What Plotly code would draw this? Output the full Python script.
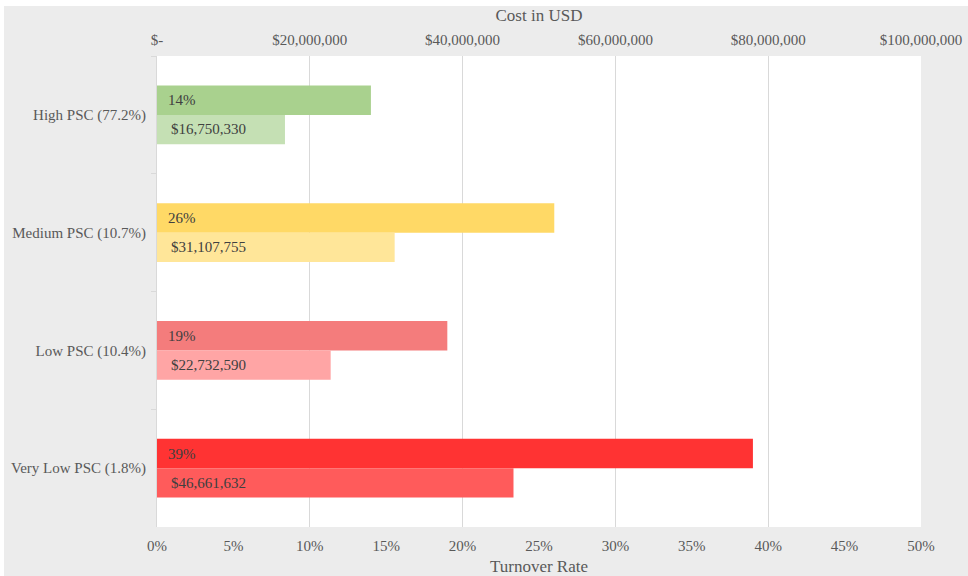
import plotly.graph_objects as go

categories = ["High PSC (77.2%)", "Medium PSC (10.7%)", "Low PSC (10.4%)", "Very Low PSC (1.8%)"]
turnover = [0.14, 0.26, 0.19, 0.39]
cost = [16750330, 31107755, 22732590, 46661632]
turnover_labels = ["14%", "26%", "19%", "39%"]
cost_labels = ["$16,750,330", "$31,107,755", "$22,732,590", "$46,661,632"]
turnover_colors = ["#a9d18e", "#ffd966", "#f47c7c", "#ff3333"]
cost_colors = ["#c5e0b4", "#ffe699", "#ffa5a5", "#ff5b5b"]
pct_ticks = [0, 0.05, 0.10, 0.15, 0.20, 0.25, 0.30, 0.35, 0.40, 0.45, 0.50]
pct_labels = ["0%", "5%", "10%", "15%", "20%", "25%", "30%", "35%", "40%", "45%", "50%"]
usd_ticks = [0, 20000000, 40000000, 60000000, 80000000, 100000000]
usd_labels = ["$-", "$20,000,000", "$40,000,000", "$60,000,000", "$80,000,000", "$100,000,000"]

W, H = 968, 576
ML, MR, MT, MB = 157, 47, 56, 49
PW, PH = W - ML - MR, H - MT - MB

FONT = "Liberation Serif, Times New Roman, serif"
TICK_COLOR = "#595959"
LABEL_COLOR = "#404040"
FS = 15
TS = 17

fig = go.Figure()

fig.add_trace(go.Bar(
    y=categories, x=turnover, orientation="h",
    marker=dict(color=turnover_colors, line=dict(width=0)),
    width=0.25, offset=-0.25,
    xaxis="x", yaxis="y", showlegend=False, hoverinfo="x+y",
))
fig.add_trace(go.Bar(
    y=categories, x=cost, orientation="h",
    marker=dict(color=cost_colors, line=dict(width=0)),
    width=0.25, offset=0.0,
    xaxis="x2", yaxis="y", showlegend=False, hoverinfo="x+y",
))

annotations = []
for cat, t in zip(categories, turnover_labels):
    annotations.append(dict(x=0, y=cat, xref="x", yref="y", text=t, showarrow=False,
                            xanchor="left", yanchor="middle", xshift=9, yshift=14.5,
                            font=dict(family=FONT, size=FS, color=LABEL_COLOR)))
for cat, c in zip(categories, cost_labels):
    annotations.append(dict(x=0, y=cat, xref="x2", yref="y", text=c, showarrow=False,
                            xanchor="left", yanchor="middle", xshift=12, yshift=-14.5,
                            font=dict(family=FONT, size=FS, color=LABEL_COLOR)))

shapes = [
    # white strips at top and left edges of the picture
    dict(type="rect", xref="paper", yref="paper", layer="above",
         x0=-ML / PW - 0.01, x1=(W - ML) / PW + 0.01,
         y0=1 + (MT - 6) / PH, y1=1 + MT / PH + 0.01,
         fillcolor="white", line=dict(width=0)),
    dict(type="rect", xref="paper", yref="paper", layer="above",
         x0=-ML / PW - 0.01, x1=-(ML - 4) / PW,
         y0=-MB / PH - 0.01, y1=1 + MT / PH + 0.01,
         fillcolor="white", line=dict(width=0)),
]

fig.update_layout(
    width=W, height=H,
    margin=dict(l=ML, r=MR, t=MT, b=MB, pad=0, autoexpand=False),
    paper_bgcolor="#ececec", plot_bgcolor="white",
    font=dict(family=FONT, size=FS, color=TICK_COLOR),
    barmode="overlay",
    xaxis=dict(
        range=[0, 0.5], tickvals=pct_ticks, ticktext=pct_labels,
        showgrid=False, zeroline=False, showline=False, ticks="",
        title=dict(text="Turnover Rate", font=dict(size=TS, color=TICK_COLOR), standoff=7),
        tickfont=dict(size=FS, color=TICK_COLOR),
        ticklabelstandoff=8, automargin=False,
    ),
    xaxis2=dict(
        range=[0, 100000000], tickvals=usd_ticks, ticktext=usd_labels,
        overlaying="x", side="top", anchor="y",
        showgrid=True, gridcolor="#d9d9d9", gridwidth=1,
        zeroline=False, showline=False, ticks="",
        title=dict(text="Cost in USD", font=dict(size=TS, color=TICK_COLOR), standoff=6),
        tickfont=dict(size=FS, color=TICK_COLOR),
        ticklabelstandoff=7, automargin=False,
    ),
    yaxis=dict(
        categoryorder="array", categoryarray=categories,
        autorange="reversed",
        showgrid=False, zeroline=False,
        showline=True, linecolor="#d9d9d9", linewidth=1,
        ticks="outside", tickson="boundaries", ticklen=5, tickcolor="#d9d9d9",
        tickfont=dict(size=FS, color=TICK_COLOR),
        ticklabelstandoff=7, automargin=False,
    ),
    annotations=annotations,
    shapes=shapes,
)

fig.write_html("out.html", config={"displayModeBar": False},
               post_script="document.body.style.margin='0';")
